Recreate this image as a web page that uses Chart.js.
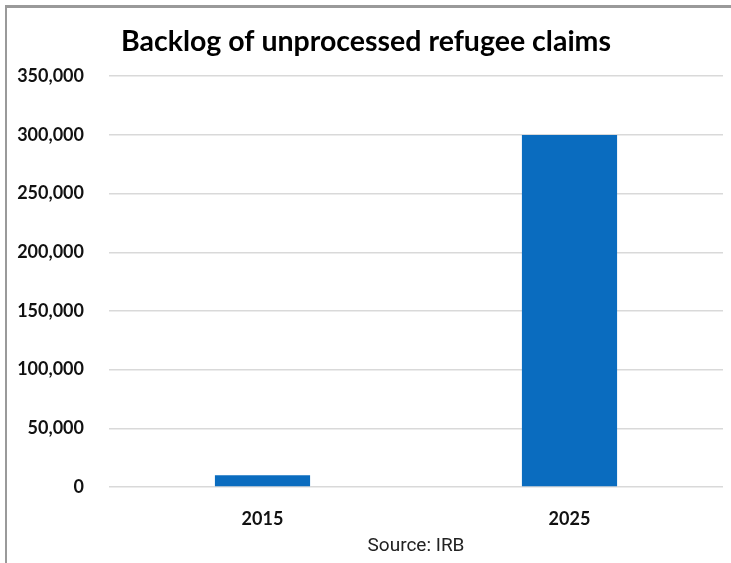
<!DOCTYPE html>
<html>
<head>
<meta charset="utf-8">
<script src="https://cdn.jsdelivr.net/npm/chart.js@4.4.1/dist/chart.umd.min.js"></script>
<style>
  body { margin: 0; background: #fff; overflow: hidden; }
  #frame { position: absolute; left: 5px; top: 5px; width: 726px; height: 558px;
           border-top: 3px solid #9a9a9a; border-left: 2px solid #9a9a9a; }
  #wrap { position: absolute; left: 2px; top: 0px; width: 724px; height: 555px; }
</style>
</head>
<body>
<div id="frame"><div id="wrap"><canvas id="out"></canvas></div></div>
<script>
// Backlog of unprocessed refugee claims (IRB)
const years = ["2015", "2025"];
const backlog = [10000, 300000];
const yTicks = [0, 50000, 100000, 150000, 200000, 250000, 300000, 350000];

const canvasCtx = document.getElementById("out").getContext("2d");

const chartConfig = {
  type: "bar",
  data: {
    labels: years,
    datasets: [
      {
        label: "Backlog",
        backgroundColor: "#0a6cbf",
        data: backlog,
        barPercentage: 0.31,
        categoryPercentage: 1
      }
    ]
  },
  options: {
    responsive: true,
    maintainAspectRatio: false,
    animation: false,
    layout: { padding: { left: 0, right: 10, top: 0, bottom: 2 } },
    plugins: {
      legend: { display: false },
      tooltip: { enabled: false },
      title: {
        display: true,
        text: "Backlog of unprocessed refugee claims",
        color: "#000",
        font: { family: "Lato", size: 28.5, weight: "bold" },
        padding: { top: 17, bottom: 17 }
      }
    },
    scales: {
      y: {
        min: 0,
        max: 350000,
        afterBuildTicks: axis => { axis.ticks = yTicks.map(v => ({ value: v })); },
        afterFit: axis => { axis.width = 100; },
        border: { display: false },
        grid: { color: "#d9d9d9", lineWidth: 1.5, drawTicks: false },
        ticks: {
          color: "#111",
          padding: 25,
          font: { family: "Lato", size: 18, weight: "bold" },
          callback: v => v.toLocaleString("en-US")
        }
      },
      x: {
        afterFit: axis => { axis.height = 74; },
        border: { display: false },
        grid: { display: false, drawTicks: false },
        ticks: {
          color: "#111",
          padding: 21,
          font: { family: "Lato", size: 18, weight: "bold" }
        },
        title: {
          display: true,
          text: "Source: IRB",
          color: "#222",
          padding: { top: 0, bottom: 3 },
          font: { family: "Liberation Sans Narrow, Roboto", size: 19 }
        }
      }
    }
  }
};

window.chart = new Chart(canvasCtx, chartConfig);
</script>
</body>
</html>
